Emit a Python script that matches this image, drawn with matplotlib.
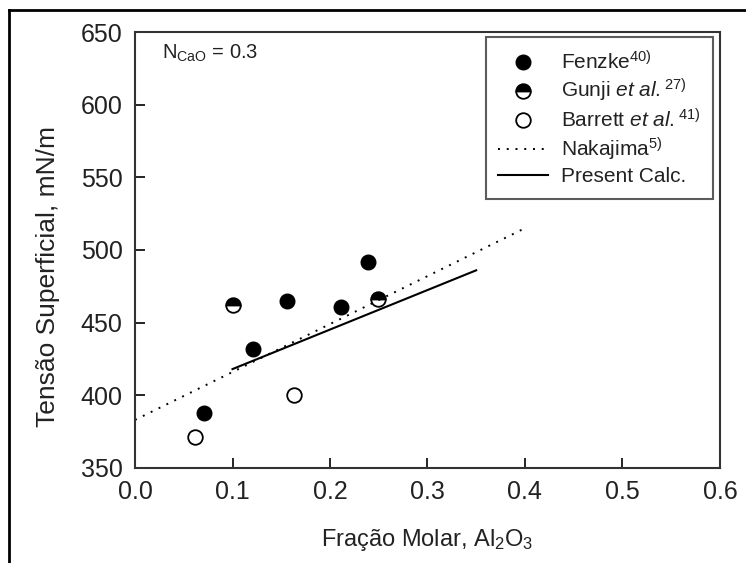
import matplotlib
matplotlib.use('Agg')
import matplotlib.pyplot as plt
from matplotlib.lines import Line2D

plt.rcParams['font.family'] = ['Liberation Sans', 'DejaVu Sans']
plt.rcParams['mathtext.fontset'] = 'custom'
plt.rcParams['mathtext.rm'] = 'Liberation Sans'
plt.rcParams['mathtext.it'] = 'Liberation Sans:italic'

# data
fenzke_x = [0.071, 0.121, 0.156, 0.211, 0.239]
fenzke_y = [388, 432, 465, 461, 492]
gunji_x = [0.100, 0.249]
gunji_y = [462, 466]
barrett_x = [0.062, 0.163]
barrett_y = [371, 400]
nakajima_x = [0.0, 0.4]
nakajima_y = [383, 515]
calc_x = [0.1, 0.35]
calc_y = [418, 486]

xticks = [0.0, 0.1, 0.2, 0.3, 0.4, 0.5, 0.6]
yticks = [350, 400, 450, 500, 550, 600, 650]

fig = plt.figure(figsize=(7.46, 5.63), dpi=100)
ax = fig.add_axes([0.181, 0.169, 0.784, 0.774])

ax.plot(fenzke_x, fenzke_y, 'o', color='black', ms=10.5, ls='none',
        label='Fenzke$^{40)}$')
ax.plot(gunji_x, gunji_y, 'o', color='black', ms=10.5, ls='none',
        fillstyle='top', markerfacecoloralt='white', mew=1.3,
        label='Gunji $\\it{et\\ al.}$$^{27)}$')
ax.plot(barrett_x, barrett_y, 'o', mfc='white', mec='black', ms=10.5,
        mew=1.3, ls='none', label='Barrett $\\it{et\\ al.}$$^{41)}$')
ax.plot(nakajima_x, nakajima_y, color='black', ls=(0, (1, 3.5)), lw=1.4,
        label='Nakajima$^{5)}$')
ax.plot(calc_x, calc_y, color='black', lw=1.5, label='Present Calc.')

ax.set_xlim(0, 0.6)
ax.set_ylim(350, 650)
ax.set_xticks(xticks)
ax.set_yticks(yticks)
ax.set_xticklabels(['%.1f' % t for t in xticks])
ax.tick_params(direction='in', length=7, width=1.2, labelsize=18, pad=9,
               labelcolor='#222222')
for s in ax.spines.values():
    s.set_linewidth(1.5)
    s.set_color('#333333')

ax.set_xlabel('Fração Molar, Al$_2$O$_3$', fontsize=17, color='#222222',
              labelpad=16)
ax.set_ylabel('Tensão Superficial, mN/m', fontsize=19, color='#222222',
              labelpad=15, y=0.44)

ax.text(0.046, 0.975, 'N$_{\\mathrm{CaO}}$ = 0.3', transform=ax.transAxes,
        fontsize=14.5, va='top', ha='left', color='#222222')

leg = ax.legend(loc='upper right', fontsize=15, frameon=True,
                fancybox=False, edgecolor='#333333', handlelength=2.4,
                borderaxespad=0, borderpad=0.6, labelspacing=0.2,
                handletextpad=0.6, bbox_to_anchor=(0.988, 0.988))
leg.get_frame().set_linewidth(1.5)
for t in leg.get_texts():
    t.set_color('#222222')

# outer frame of the image
fig.add_artist(Line2D([9 / 746, 1], [1 - 10 / 563, 1 - 10 / 563],
                      transform=fig.transFigure, color='black', lw=2))
fig.add_artist(Line2D([9 / 746, 9 / 746], [0, 1 - 10 / 563],
                      transform=fig.transFigure, color='black', lw=2))

fig.savefig('out.png', dpi=100)
